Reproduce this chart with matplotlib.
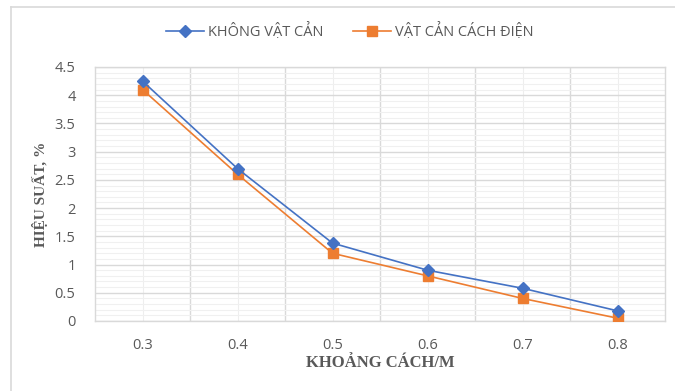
import matplotlib.pyplot as plt
from matplotlib.ticker import MultipleLocator, FormatStrFormatter

# khoảng cách (m) và hiệu suất (%)
categories = ["0.3", "0.4", "0.5", "0.6", "0.7", "0.8"]
khong_vat_can = [4.25, 2.7, 1.38, 0.9, 0.58, 0.18]
vat_can_cach_dien = [4.1, 2.6, 1.2, 0.8, 0.4, 0.05]

blue = "#4472C4"
orange = "#ED7D31"
gray_text = "#595959"

fig = plt.figure(figsize=(6.75, 3.91), dpi=100)
ax = fig.add_axes([95 / 675, 1 - 321 / 391, 570 / 675, 254 / 391])

x = list(range(len(categories)))
ax.plot(x, khong_vat_can, color=blue, lw=1.2, marker="D", ms=6.5,
        label="KHÔNG VẬT CẢN", zorder=4)
ax.plot(x, vat_can_cach_dien, color=orange, lw=1.2, marker="s", ms=7.5,
        label="VẬT CẢN CÁCH ĐIỆN", zorder=3)

ax.set_xlim(-0.5, len(categories) - 0.5)
ax.set_ylim(0, 4.5)

# lưới kiểu Excel: đường chính ở ranh giới nhóm, đường phụ ở giữa
ax.set_xticks(x)
ax.set_xticklabels(categories)
ax.yaxis.set_major_locator(MultipleLocator(0.5))
ax.yaxis.set_minor_locator(MultipleLocator(0.1))
ax.yaxis.set_major_formatter(FormatStrFormatter("%g"))
ax.grid(False)
for i in x[:-1]:
    ax.axvline(i + 0.5, color="#d9d9d9", lw=1.0, zorder=1)
for i in x:
    ax.axvline(i, color="#eeeeee", lw=0.8, zorder=0)
ax.grid(axis="y", which="major", color="#d9d9d9", lw=1.0, zorder=1)
ax.grid(axis="y", which="minor", color="#f0f0f0", lw=0.8, zorder=0)

for s in ax.spines.values():
    s.set_color("#d9d9d9")
    s.set_linewidth(1.0)

ax.tick_params(which="both", length=0)
ax.tick_params(axis="y", labelsize=10.5, colors=gray_text, pad=14)
ax.tick_params(axis="x", labelsize=10.5, colors=gray_text, pad=12)
for t in ax.get_xticklabels() + ax.get_yticklabels():
    t.set_family("Open Sans")

ax.set_xlabel("KHOẢNG CÁCH/M", fontsize=12, fontweight="bold",
              family="Liberation Serif", color=gray_text, labelpad=2)
ax.set_ylabel("HIỆU SUẤT, %", fontsize=11, fontweight="bold",
              family="Liberation Serif", color=gray_text, labelpad=5)

leg = fig.legend(loc="center", bbox_to_anchor=(350 / 675, 1 - 32 / 391),
                 ncol=2, frameon=False, columnspacing=2.0,
                 handlelength=2.6, handletextpad=0.3,
                 prop={"family": "Open Sans", "size": 10.5})
for t in leg.get_texts():
    t.set_color(gray_text)

# khung ngoài của biểu đồ
fig.add_artist(plt.Line2D([11 / 675, 11 / 675], [0, 1 - 7 / 391],
                          color="#d9d9d9", lw=1.2))
fig.add_artist(plt.Line2D([11 / 675, 1], [1 - 7 / 391, 1 - 7 / 391],
                          color="#d9d9d9", lw=1.2))

fig.savefig("out.png", dpi=100)
